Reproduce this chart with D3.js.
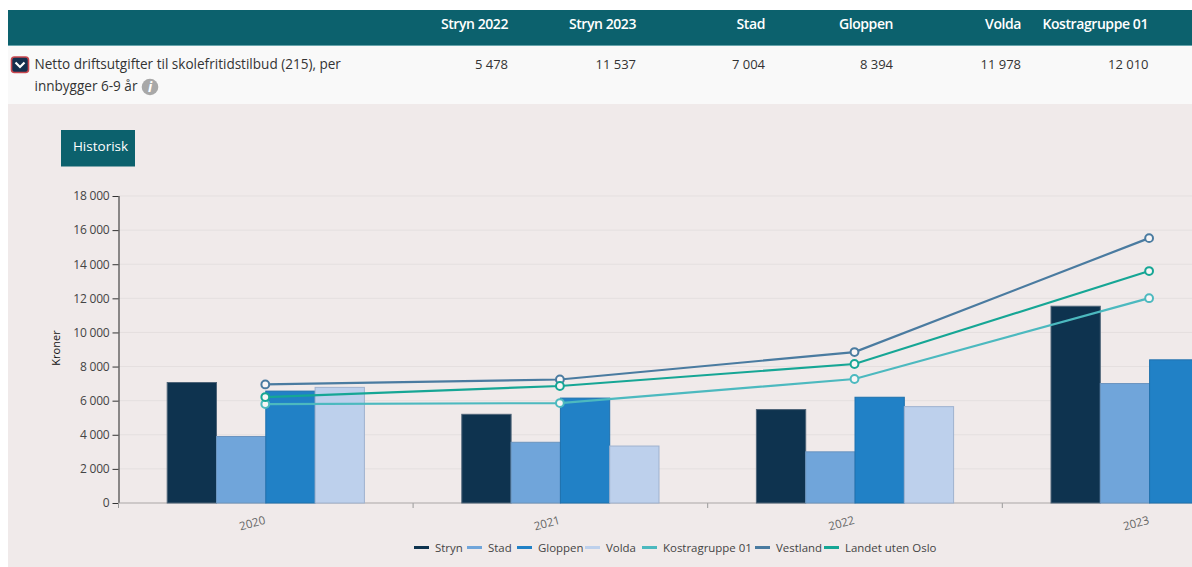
<!DOCTYPE html>
<html><head><meta charset="utf-8">
<script src="https://cdn.jsdelivr.net/npm/d3@7/dist/d3.min.js"></script>
<style>html,body{margin:0;padding:0;background:#fff;overflow:hidden}svg{display:block;font-family:"Open Sans",sans-serif}</style>
</head><body><div id="c"></div>
<script>
const years = ["2020","2021","2022","2023"];
const barNames = ["Stryn","Stad","Gloppen","Volda"];
const stryn = [7065,5200,5478,11537];
const stad = [3900,3560,3000,7004];
const gloppen = [6560,6150,6200,8394];
const volda = [6780,3340,5650,11978];
const lineNames = ["Kostragruppe 01","Vestland","Landet uten Oslo"];
const kostra = [5800,5860,7270,12010];
const vestland = [6950,7240,8850,15530];
const landet = [6210,6860,8150,13600];
const yTicks = [0,2000,4000,6000,8000,10000,12000,14000,16000,18000];
const tableHeads = ["Stryn 2022","Stryn 2023","Stad","Gloppen","Volda","Kostragruppe 01"];
const tableVals = ["5 478","11 537","7 004","8 394","11 978","12 010"];
const tableRight = [508,636,765,893,1021,1148];
const legendNames = ["Stryn","Stad","Gloppen","Volda","Kostragruppe 01","Vestland","Landet uten Oslo"];
const barColors = ["#0e334f","#70a5da","#2181c6","#bdd0ec"];
const barStrokes = ["#4e6478","#6a94bf","#1e71ad","#9fb2cf"];
const lineColors = ["#4cb9bf","#4a7ba0","#16a695"];
const legendColors = ["#0e334f","#70a5da","#2181c6","#bdd0ec","#4cb9bf","#4a7ba0","#16a695"];
const legendSwatchX = [414,467,517,585,642,755,824];

const W=1192,H=567;
const svg=d3.select("#c").append("svg").attr("width",W).attr("height",H);
svg.append("rect").attr("x",8).attr("y",10).attr("width",W-8).attr("height",35.5).attr("fill","#0c616d");
svg.append("rect").attr("x",8).attr("y",45.5).attr("width",W-8).attr("height",1).attr("fill","#4a9aa2");
svg.append("rect").attr("x",8).attr("y",46).attr("width",W-8).attr("height",58).attr("fill","#f9f9f9");
svg.append("rect").attr("x",8).attr("y",104).attr("width",W-8).attr("height",H-104).attr("fill","#f0eaea");

svg.selectAll("text.th").data(tableHeads).join("text").attr("class","th")
 .attr("x",(d,i)=>tableRight[i]).attr("y",29).attr("text-anchor","end")
 .attr("font-size",14).attr("font-weight",600).attr("letter-spacing","-0.42").attr("fill","#fff").text(d=>d);
svg.selectAll("text.tv").data(tableVals).join("text").attr("class","tv")
 .attr("x",(d,i)=>tableRight[i]+(i==5?0.5:0)).attr("y",69).attr("text-anchor","end")
 .attr("font-size",13).attr("fill","#333").text(d=>d);

// expand icon
svg.append("rect").attr("x",11.5).attr("y",57).attr("width",17).attr("height",15.5).attr("rx",3)
 .attr("fill","#14304f").attr("stroke","#c9474f").attr("stroke-width",1.6);
svg.append("path").attr("d","M15.5 62.5 L20 67 L24.5 62.5").attr("fill","none").attr("stroke","#fff").attr("stroke-width",2.2);
svg.append("text").attr("x",34.5).attr("y",69).attr("font-size",13.55).attr("fill","#333").text("Netto driftsutgifter til skolefritidstilbud (215), per");
svg.append("text").attr("x",34.5).attr("y",91).attr("font-size",13.55).attr("fill","#333").text("innbygger 6-9 år");
svg.append("circle").attr("cx",150).attr("cy",87).attr("r",8.3).attr("fill","#a8a8a8");
svg.append("text").attr("x",150).attr("y",92).attr("text-anchor","middle").attr("font-size",14).attr("font-weight",700).attr("font-style","italic").attr("fill","#fff").text("i");

svg.append("rect").attr("x",61).attr("y",130).attr("width",74).attr("height",36.5).attr("fill","#0c616d");
svg.append("text").attr("x",100.5).attr("y",151).attr("text-anchor","middle").attr("font-size",13.5).attr("fill","#fff").text("Historisk");

const bandW=294.6, x0=118.5;
const x=d3.scaleBand().domain(years).range([x0,x0+bandW*4]);
const xb=d3.scaleBand().domain(barNames).range([0,49.3*4]);
const y=d3.scaleLinear().domain([0,18000]).range([503,196]);
const g=svg.append("g");
g.selectAll("line.grid").data(yTicks.slice(1)).join("line").attr("class","grid")
 .attr("x1",x0).attr("x2",W).attr("y1",d=>y(d)).attr("y2",d=>y(d)).attr("stroke","#e4dfdf").attr("stroke-width",1);

const fmt=d=>d3.format(",")(d).replace(/,/g," ");
const yAxis=d3.axisLeft(y).tickValues(yTicks).tickFormat(fmt).tickSize(6).tickPadding(3);
const ya=g.append("g").attr("transform",`translate(${x0},0)`).call(yAxis);
ya.selectAll("text").attr("font-size",12).attr("letter-spacing","-0.2").attr("fill","#444").attr("font-family","'Open Sans',sans-serif");
ya.selectAll("line").attr("stroke","#333");
ya.select(".domain").attr("stroke","#222").attr("d","M0.5,196V503");

const xTickPos=[0,1,2,3].map(i=>x0+bandW*i);
g.selectAll("line.xt").data(xTickPos).join("line").attr("class","xt").attr("x1",d=>d).attr("x2",d=>d).attr("y1",503).attr("y2",508).attr("stroke","#999");
g.append("line").attr("x1",x0).attr("x2",W).attr("y1",503).attr("y2",503).attr("stroke","#a9a5a5").attr("stroke-width",1.2);

const barSeries=[stryn,stad,gloppen,volda];
barSeries.forEach((vals,si)=>{
 g.selectAll("rect.b"+si).data(vals).join("rect").attr("class","b"+si)
  .attr("x",(d,i)=>x(years[i])+x.bandwidth()/2-xb.step()*2+xb(barNames[si]))
  .attr("y",d=>y(d)).attr("width",xb.bandwidth()).attr("height",d=>503-y(d))
  .attr("fill",barColors[si]).attr("stroke",barStrokes[si]).attr("stroke-width",1);
});

const lineSeries=[kostra,vestland,landet];
const cx=i=>x(years[i])+x.bandwidth()/2-0.5;
const ln=d3.line().x((d,i)=>cx(i)).y(d=>y(d));
lineSeries.forEach((vals,si)=>{
 g.append("path").datum(vals).attr("d",ln).attr("fill","none").attr("stroke",lineColors[si]).attr("stroke-width",2.2);
 g.selectAll("circle.p"+si).data(vals).join("circle").attr("class","p"+si)
  .attr("cx",(d,i)=>cx(i)).attr("cy",d=>y(d)).attr("r",3.9).attr("fill","#f8f5f5").attr("stroke",lineColors[si]).attr("stroke-width",2);
});

g.selectAll("text.xl").data(years).join("text").attr("class","xl")
 .attr("transform",d=>`translate(${x(d)+x.bandwidth()/2-12.5},527) rotate(-15)`)
 .attr("text-anchor","middle").attr("font-size",11.5).attr("fill","#666").text(d=>d);

svg.append("text").attr("transform","translate(60,348) rotate(-90)").attr("text-anchor","middle").attr("font-size",11).attr("fill","#111").text("Kroner");

const leg=svg.append("g");
legendNames.forEach((n,i)=>{
 leg.append("rect").attr("x",legendSwatchX[i]).attr("y",546).attr("width",15).attr("height",3).attr("fill",legendColors[i]);
 leg.append("text").attr("x",legendSwatchX[i]+21).attr("y",552).attr("font-size",11.45).attr("fill","#444").text(n);
});
</script></body></html>
